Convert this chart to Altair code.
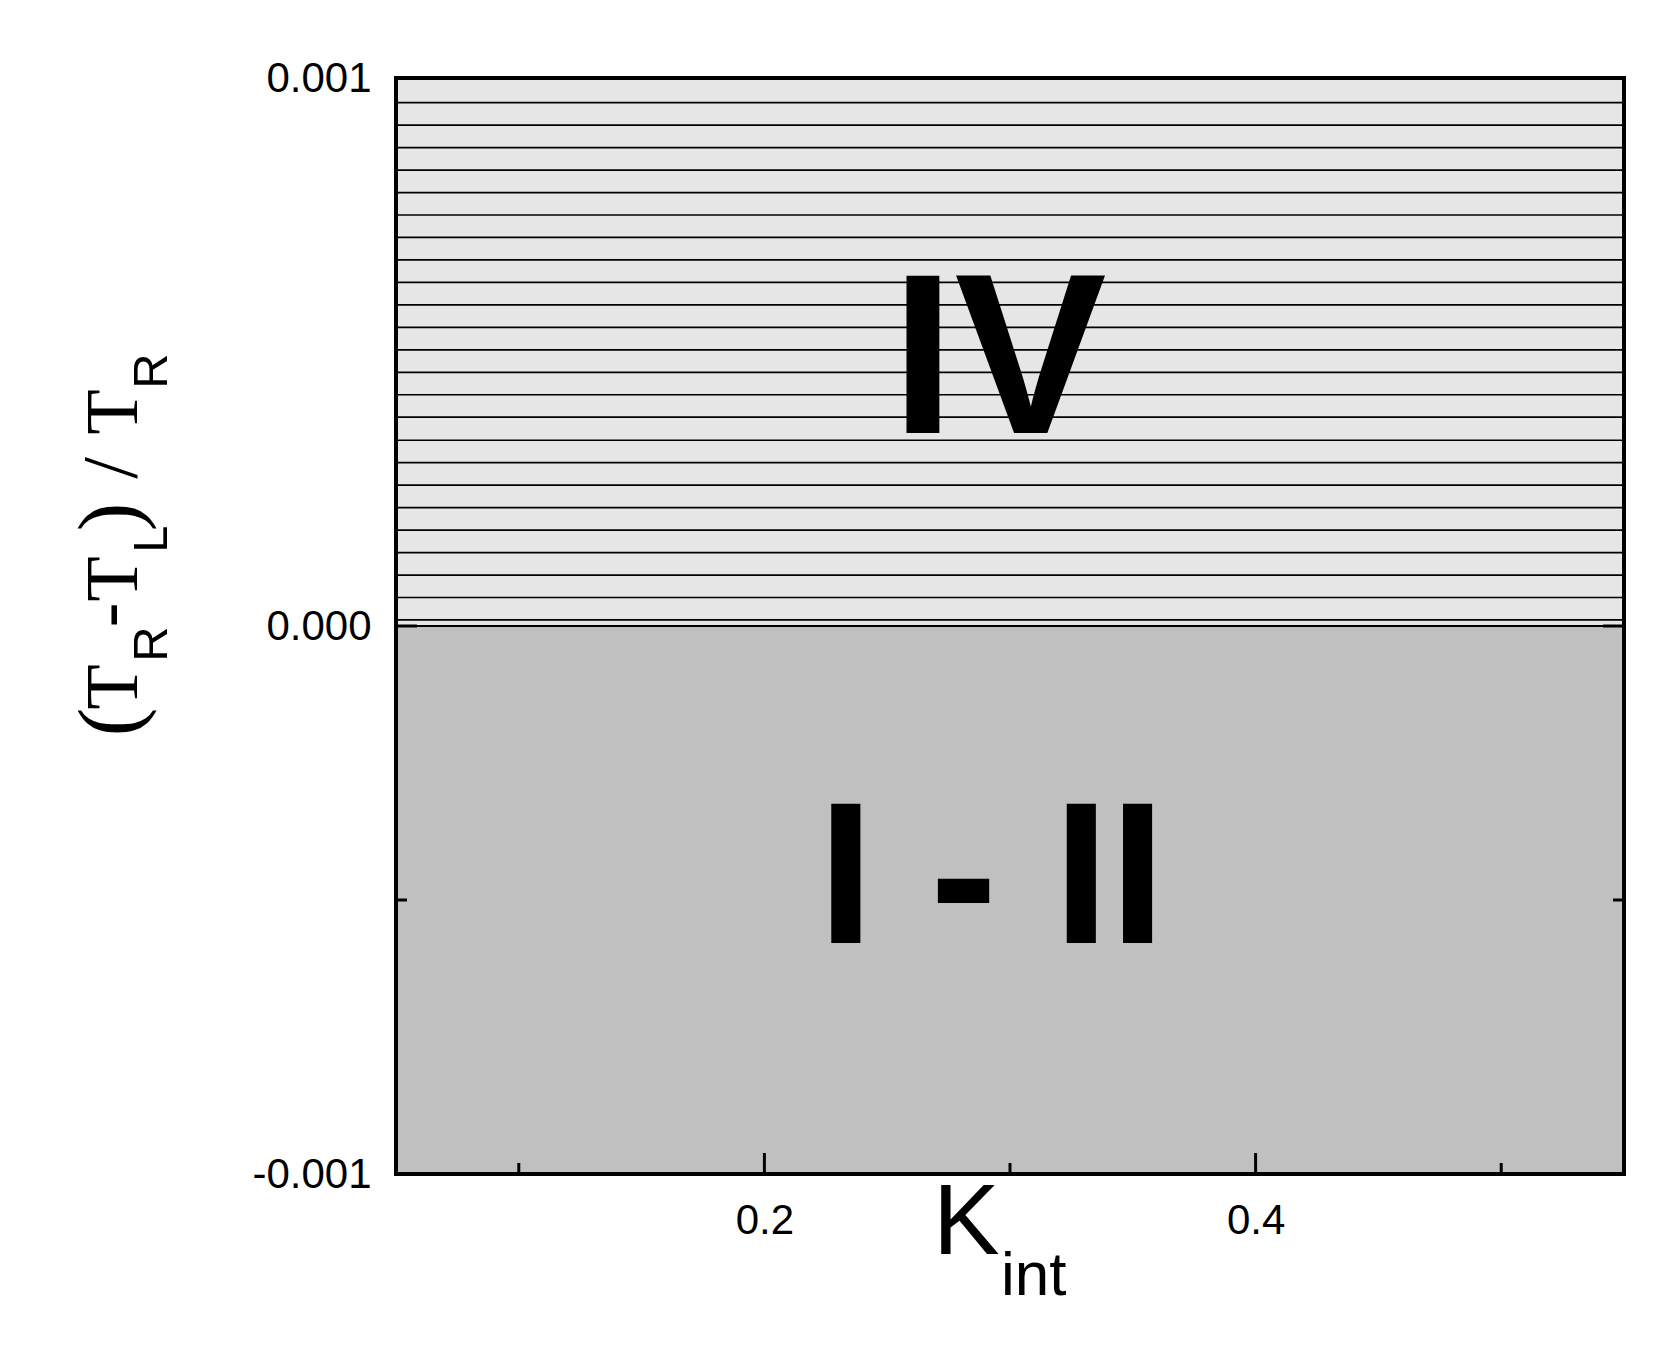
import altair as alt
import pandas as pd

# ---------------- data ----------------
x_domain = [0.05, 0.55]
y_domain = [-0.001, 0.001]

region_names = ["IV", "I - II"]
region_y_low = [0.0, -0.001]
region_y_high = [0.001, 0.0]
region_label_x = [0.2955, 0.2925]
region_label_y = [0.000352, -0.000578]

# horizontal hatch lines of region IV
hatch_y = [0.000011, 0.000052, 0.000093, 0.000134, 0.000175, 0.000216,
           0.000257, 0.000298, 0.000339, 0.000381, 0.000422, 0.000463,
           0.000504, 0.000545, 0.000586, 0.000627, 0.000668, 0.000709,
           0.000750, 0.000791, 0.000832, 0.000873, 0.000914, 0.000955]

x_label_values = [0.2, 0.4]
x_tick_major = [0.2, 0.4]
x_tick_minor = [0.1, 0.3, 0.5]
y_label_values = [-0.001, 0.0, 0.001]
y_tick_major = [0.0]
y_tick_minor = [-0.0005]
zero_line = [0.0]

# ---------------- layout ----------------
W, H = 1228, 1096
MAJ, MIN = 21, 11
SANS = "Liberation Sans"
SERIF = "Liberation Serif"

xs = alt.Scale(domain=x_domain, nice=False, zero=False)
ys = alt.Scale(domain=y_domain, nice=False, zero=False)

X_AXIS = alt.Axis(values=x_label_values, format=".1f", title=None,
                  ticks=False, domain=False, grid=False,
                  labelFont=SANS, labelFontSize=42, labelColor="black",
                  labelPadding=26, labelFlush=False, labelOverlap=False)
Y_AXIS = alt.Axis(values=y_label_values, title=None,
                  labelExpr="datum.value < 0 ? '-' + format(-datum.value, '.3f') : format(datum.value, '.3f')",
                  ticks=False, domain=False, grid=False,
                  labelFont=SANS, labelFontSize=42, labelColor="black",
                  labelPadding=25, labelFlush=False, labelOverlap=False)

regions = pd.DataFrame({
    "region": region_names,
    "x0": [x_domain[0]] * 2,
    "x1": [x_domain[1]] * 2,
    "y0": region_y_low,
    "y1": region_y_high,
})

base_rect = alt.Chart(regions).mark_rect().encode(
    x=alt.X("x0:Q", scale=xs, axis=X_AXIS),
    x2="x1:Q",
    y=alt.Y("y0:Q", scale=ys, axis=Y_AXIS),
    y2="y1:Q",
    color=alt.Color("region:N",
                    scale=alt.Scale(domain=region_names, range=["#e6e6e6", "#c0c0c0"]),
                    legend=None),
)

hatch = alt.Chart(pd.DataFrame({"v": hatch_y})).mark_rule(
    color="black", strokeWidth=1.7
).encode(y=alt.Y("v:Q", scale=ys, axis=Y_AXIS))

zero = alt.Chart(pd.DataFrame({"v": zero_line})).mark_rule(
    color="black", strokeWidth=2
).encode(y=alt.Y("v:Q", scale=ys, axis=Y_AXIS))


def xticks(vals, length):
    return alt.Chart(pd.DataFrame({"v": vals})).mark_rule(
        color="black", strokeWidth=3
    ).encode(x=alt.X("v:Q", scale=xs, axis=X_AXIS),
             y=alt.value(H), y2=alt.value(H - length))


def yticks(vals, length, right=False):
    x0 = W if right else 0
    x1 = W - length if right else length
    return alt.Chart(pd.DataFrame({"v": vals})).mark_rule(
        color="black", strokeWidth=3
    ).encode(y=alt.Y("v:Q", scale=ys, axis=Y_AXIS),
             x=alt.value(x0), x2=alt.value(x1))


frame = alt.Chart(regions.head(1)).mark_rect(
    fillOpacity=0, stroke="black", strokeWidth=4
).encode(
    x=alt.X("x0:Q", scale=xs, axis=X_AXIS), x2="x1:Q",
    y=alt.value(0), y2=alt.value(H),
)

labels_df = pd.DataFrame({"region": region_names, "lx": region_label_x, "ly": region_label_y})


def region_text(name, size):
    return alt.Chart(labels_df).transform_filter(
        alt.datum.region == name
    ).mark_text(font=SANS, fontWeight="bold", fontSize=size, color="black",
                align="center", baseline="alphabetic").encode(
        x=alt.X("lx:Q", scale=xs, axis=X_AXIS),
        y=alt.Y("ly:Q", scale=ys, axis=Y_AXIS),
        text="region:N",
    )


def piece(txt, x, y, size, font, angle=0, align="center"):
    kw = dict(text=txt, font=font, fontSize=size, color="black",
              align=align, baseline="alphabetic")
    if angle:
        kw["angle"] = angle
    return alt.Chart(pd.DataFrame({"d": [0]})).mark_text(**kw).encode(
        x=alt.value(x), y=alt.value(y))


# y title pieces: (T_R - T_L) / T_R  (rotated, reading upward)
y_title = [
    piece("(", -258, 644, 86, SERIF, 270),
    piece("T", -259, 609, 74, SERIF, 270),
    piece("R", -229, 566, 49, SANS, 270),
    piece("-", -264, 537, 74, SERIF, 270),
    piece("T", -259, 501, 74, SERIF, 270),
    piece("L", -229, 461, 49, SANS, 270),
    piece(")", -258, 439, 86, SERIF, 270),
    piece("/", -260, 390, 78, SERIF, 270),
    piece("T", -259, 334, 74, SERIF, 270),
    piece("R", -229, 293, 49, SANS, 270),
]

# x title: K_int
x_title = [
    piece("K", 537, 1176, 100, SANS, 0, "left"),
    piece("int", 605, 1217, 62, SANS, 0, "left"),
]

chart = alt.layer(
    base_rect,
    hatch,
    zero,
    xticks(x_tick_major, MAJ),
    xticks(x_tick_minor, MIN),
    yticks(y_tick_major, MAJ),
    yticks(y_tick_minor, MIN),
    yticks(y_tick_major, MAJ, right=True),
    yticks(y_tick_minor, MIN, right=True),
    frame,
    region_text("IV", 228),
    region_text("I - II", 202),
    *y_title,
    *x_title,
).properties(
    width=W, height=H,
    autosize=alt.AutoSizeParams(type="none"),
    padding={"left": 388, "top": 70, "right": 39, "bottom": 174},
    background="white",
).configure_view(stroke=None)

chart.save("out.html", embed_options={"renderer": "svg", "actions": False})
